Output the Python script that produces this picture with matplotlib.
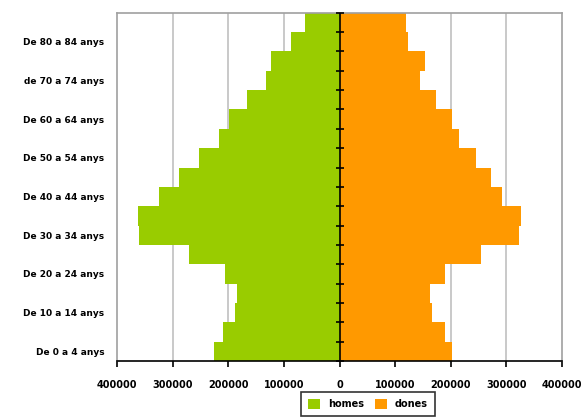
import matplotlib
matplotlib.use("Agg")
from matplotlib import pyplot as plt
import numpy as np

ages = ['De 0 a 4 anys', 'De 5 a 9 anys', 'De 10 a 14 anys', 'De 15 a 19 anys',
        'De 20 a 24 anys', 'De 25 a 29 anys', 'De 30 a 34 anys', 'De 35 a 39 anys',
        'De 40 a 44 anys', 'De 45 a 49 anys', 'De 50 a 54 anys', 'De 55 a 59 anys',
        'De 60 a 64 anys', 'De 65 a 69 anys', 'de 70 a 74 anys', 'De 75 a 79 anys',
        'De 80 a 84 anys', '85 i més']
homes = [226000, 209000, 187000, 184000, 205000, 270000, 360000, 363000, 324000,
         288000, 252000, 216000, 198000, 166000, 133000, 123000, 87000, 61500]
dones = [203000, 189000, 167000, 163000, 189000, 254000, 322000, 326000, 293000,
         272000, 246000, 214000, 203000, 174000, 145000, 153000, 124000, 120000]
x_ticks = [-400000, -300000, -200000, -100000, 0, 100000, 200000, 300000, 400000]

green = '#99cc00'
orange = '#ff9900'

fig = plt.figure(figsize=(5.85, 4.17), dpi=100)
ax = fig.add_axes([0.2, 0.1343, 0.7607, 0.8352])

y = np.arange(len(ages))
ax.barh(y, [-v for v in homes], height=1.0, color=green, label='homes', zorder=2)
ax.barh(y, dones, height=1.0, color=orange, label='dones', zorder=2)

ax.set_xlim(-400000, 400000)
ax.set_ylim(-0.5, len(ages) - 0.5)
ax.set_xticks(x_ticks)
ax.set_xticklabels([str(abs(v)) for v in x_ticks], fontsize=7, fontweight='bold')
ax.tick_params(axis='x', direction='out', length=4, width=1.2, pad=10)
for v in x_ticks[1:-1]:
    if v != 0:
        ax.axvline(v, color='#c0c0c0', linewidth=1.2, zorder=1)

ax.set_yticks(y[::2])
ax.set_yticklabels(ages[::2], fontsize=6.5, fontweight='bold')
ax.tick_params(axis='y', length=0, pad=9)

for s in ['left', 'top', 'right']:
    ax.spines[s].set_color('#a0a0a0')
    ax.spines[s].set_linewidth(1.2)
ax.spines['bottom'].set_color('black')
ax.spines['bottom'].set_linewidth(1.2)

# central axis with ticks between the age groups
edges = np.arange(len(ages) + 1) - 0.5
ax.axvline(0, color='black', linewidth=1.2, zorder=4)
ax.plot(np.zeros(len(edges)), edges, linestyle='none', marker='_',
        markersize=6, markeredgewidth=1.2, color='black', zorder=5, clip_on=False)

leg = ax.legend(loc='upper center', bbox_to_anchor=(0.564, -0.075), ncol=2,
                frameon=True, fancybox=False, edgecolor='black',
                prop={'weight': 'bold', 'size': 7}, handlelength=1.2,
                handleheight=1.2, columnspacing=1.2, borderpad=0.7)
leg.get_frame().set_linewidth(1.2)

fig.savefig('out.png', dpi=100)
